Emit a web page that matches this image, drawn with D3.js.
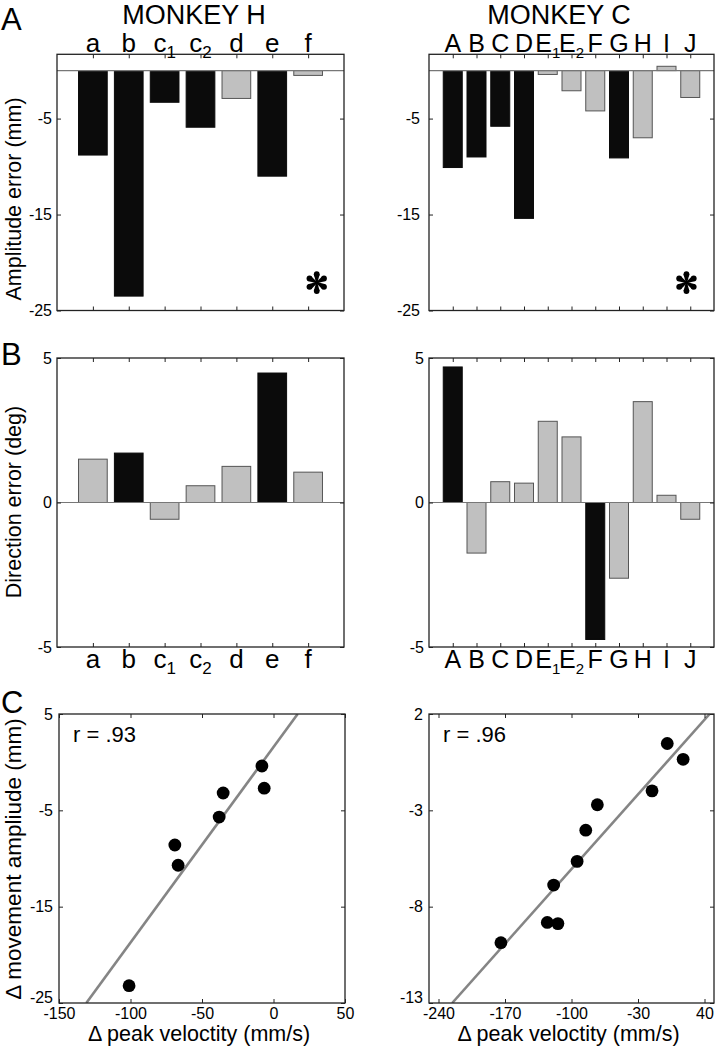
<!DOCTYPE html>
<html><head><meta charset="utf-8">
<script src="https://cdn.jsdelivr.net/npm/d3@7"></script>
<style>
html,body{margin:0;padding:0;background:#fff;}
text{font-family:"Liberation Sans",Arial,Helvetica,sans-serif;fill:#000;}
</style></head>
<body>
<svg id="chart" width="716" height="1050"></svg>
<script>
// ---------- DATA ----------
const catsH = ["a","b","c1","c2","d","e","f"];
const ampH = [-8.8, -23.5, -3.3, -5.9, -2.9, -11.0, -0.5];
const ampHsig = [1,1,1,1,0,1,0];
const dirH = [1.50, 1.71, -0.58, 0.58, 1.25, 4.48, 1.05];
const dirHsig = [0,1,0,0,0,1,0];

const catsC = ["A","B","C","D","E1","E2","F","G","H","I","J"];
const ampC = [-10.1, -9.0, -5.8, -15.4, -0.4, -2.1, -4.2, -9.1, -7.0, 0.45, -2.8];
const ampCsig = [1,1,1,1,0,0,0,1,0,0,0];
const dirC = [4.69, -1.75, 0.72, 0.67, 2.81, 2.27, -4.74, -2.62, 3.49, 0.25, -0.58];
const dirCsig = [1,0,0,0,0,0,1,0,0,0,0];

const velH = [-101, -69, -66.7, -38, -35.2, -8.1, -6.5];
const dAmpH = [-23.2, -8.6, -10.7, -5.7, -3.2, -0.4, -2.7];
const fitH = [[-130.9, -25], [16.9, 5]];
const rH = "r = .93";

const velC = [-174.3, -125.5, -114.3, -118.8, -94.1, -85, -72.8, -15.2, 0.8, 17.5];
const dAmpC = [-9.87, -8.82, -8.88, -6.88, -5.65, -4.03, -2.71, -1.99, 0.47, -0.35];
const fitC = [[-225.6, -13], [45.4, 2]];
const rC = "r = .96";

const ampTicks = [-5, -15, -25];
const dirTicks = [5, 0, -5];
const xTicksH = [-150, -100, -50, 0, 50];
const yTicksH = [5, -5, -15, -25];
const xTicksC = [-240, -170, -100, -30, 40];
const yTicksC = [2, -3, -8, -13];

// ---------- DRAWING ----------
const svg = d3.select("#chart");
const BLACK = "#0b0b0b", GRAY = "#c0c0c0", EDGE = "#555", FRAME = "#222";
const TICKFS = 16;

function catLabel(g, x, y, label, fs, subfs) {
  const m = label.match(/^([A-Za-z]+)(\d*)$/);
  const t = g.append("text").attr("x", x).attr("y", y)
    .attr("text-anchor", "middle").style("font-size", fs + "px");
  t.append("tspan").text(m[1]);
  if (m[2]) {
    t.append("tspan").attr("dy", 6).style("font-size", subfs + "px").text(m[2]);
  }
}

function frameAndTicks(g, x, y, xTicks, yTicks, opts) {
  const [x0, x1] = x.range();
  const [y1, y0] = y.range();
  g.append("rect").attr("x", x0).attr("y", y0).attr("width", x1 - x0).attr("height", y1 - y0)
    .attr("fill", "none").attr("stroke", FRAME).attr("stroke-width", 1.3);
  const tk = 4;
  const axes = [
    [d3.axisLeft(y).tickValues(yTicks).tickSize(-tk).tickPadding(opts.ypad || 6).tickFormat(d => String(d)), x0, 0, "y"],
    [d3.axisRight(y).tickValues(yTicks).tickSize(-tk).tickFormat(""), x1, 0, ""],
    [d3.axisTop(x).tickValues(xTicks).tickSize(-tk).tickFormat(""), 0, y0, ""],
    [d3.axisBottom(x).tickValues(xTicks).tickSize(-tk).tickPadding(opts.xpad || 5)
        .tickFormat(opts.xLabels ? (d => String(d)) : ""), 0, y1, "x"]
  ];
  axes.forEach(([ax, tx, ty, kind]) => {
    const a = g.append("g").attr("transform", `translate(${tx},${ty})`).call(ax.tickSizeOuter(0));
    a.select(".domain").remove();
    a.selectAll("line").attr("stroke", FRAME).attr("stroke-width", 1);
    a.selectAll("text").style("font-size", TICKFS + "px")
      .style("font-family", '"Liberation Sans",Arial,sans-serif').attr("fill", "#000");
    if (kind === "y" && opts.xLabels) {
      const lo = d3.min(yTicks);
      a.selectAll(".tick").filter(d => d === lo).select("text").attr("dy", "-0.05em");
    }
  });
}

function barPanel(cats, vals, sig, xr, yr, ydom, yTicks, labelPos, ypad, fs, subfs) {
  const g = svg.append("g");
  const n = cats.length;
  const x = d3.scaleLinear().domain([0, n + 1]).range(xr);
  const y = d3.scaleLinear().domain(ydom).range([yr[1], yr[0]]);
  const idx = d3.range(n);
  g.selectAll("rect.bar").data(idx).enter().append("rect").attr("class", "bar")
    .attr("x", i => x(i + 1 - 0.4))
    .attr("width", x(0.8) - x(0))
    .attr("y", i => Math.min(y(vals[i]), y(0)))
    .attr("height", i => Math.abs(y(vals[i]) - y(0)))
    .attr("fill", i => sig[i] ? BLACK : GRAY)
    .attr("stroke", i => sig[i] ? BLACK : EDGE)
    .attr("stroke-width", 1);
  g.append("line").attr("x1", xr[0]).attr("x2", xr[1]).attr("y1", y(0)).attr("y2", y(0))
    .attr("stroke", "#777").attr("stroke-width", 1.2);
  frameAndTicks(g, x, y, idx.map(i => i + 1), yTicks, {ypad: ypad});
  idx.forEach(i => {
    const ly = labelPos === "top" ? 52 : 668;
    catLabel(g, x(i + 1), ly, cats[i], fs, subfs);
  });
  return {g, x, y};
}

function scatterPanel(vx, vy, fit, rText, xr, yr, xdom, ydom, xTicks, yTicks) {
  const g = svg.append("g");
  const x = d3.scaleLinear().domain(xdom).range(xr);
  const y = d3.scaleLinear().domain(ydom).range([yr[1], yr[0]]);
  const clipId = "clip" + Math.round(xr[0]);
  svg.append("clipPath").attr("id", clipId).append("rect")
    .attr("x", xr[0]).attr("y", yr[0]).attr("width", xr[1] - xr[0]).attr("height", yr[1] - yr[0]);
  g.append("line").attr("clip-path", `url(#${clipId})`)
    .attr("x1", x(fit[0][0])).attr("y1", y(fit[0][1]))
    .attr("x2", x(fit[1][0])).attr("y2", y(fit[1][1]))
    .attr("stroke", "#858585").attr("stroke-width", 2.6);
  g.selectAll("circle").data(d3.range(vx.length)).enter().append("circle")
    .attr("cx", i => x(vx[i])).attr("cy", i => y(vy[i])).attr("r", 6.4).attr("fill", "#000");
  frameAndTicks(g, x, y, xTicks, yTicks, {xLabels: true, ypad: 6, xpad: 5});
  g.append("text").attr("x", xr[0] + 14).attr("y", yr[0] + 28).style("font-size", "22px").text(rText);
  g.append("text").attr("x", (xr[0] + xr[1]) / 2 - 3).attr("y", 1041)
    .attr("text-anchor", "middle").style("font-size", "21.5px").text("\u0394 peak veloctity (mm/s)");
  return {g, x, y};
}

// Row A
const aH = barPanel(catsH, ampH, ampHsig, [57, 344], [54.3, 310.5], [-25, 1.7], ampTicks, "top", 5, 26, 17);
const aC = barPanel(catsC, ampC, ampCsig, [429, 714], [54.3, 310.5], [-25, 1.7], ampTicks, "top", 9, 25, 15);
// Row B
barPanel(catsH, dirH, dirHsig, [57, 344], [358, 647], [-5, 5], dirTicks, "bottom", 5, 26, 17);
barPanel(catsC, dirC, dirCsig, [429, 714], [358, 647], [-5, 5], dirTicks, "bottom", 5, 25, 15);
// Row C
scatterPanel(velH, dAmpH, fitH, rH, [59, 345], [714, 1003], [-150, 50], [-25, 5], xTicksH, yTicksH);
scatterPanel(velC, dAmpC, fitC, rC, [429, 714], [714, 1003], [-250, 50], [-13, 2], xTicksC, yTicksC);

// six-armed asterisk significance marks (teardrop arms)
function asterisk(g, cx, cy) {
  const L = 8.4, R = 2.9, w0 = 0.7;
  const a = g.append("g").attr("transform", `translate(${cx},${cy})`);
  d3.range(6).forEach(k => {
    const ang = (90 + k * 60) * Math.PI / 180;
    const ux = Math.cos(ang), uy = -Math.sin(ang);
    const px = -uy, py = ux;
    const pts = [[px * w0, py * w0], [ux * L + px * R, uy * L + py * R],
                 [ux * L - px * R, uy * L - py * R], [-px * w0, -py * w0]];
    a.append("path").attr("d", "M" + pts.map(p => p.join(",")).join("L") + "Z").attr("fill", "#000");
    a.append("circle").attr("cx", ux * L).attr("cy", uy * L).attr("r", R).attr("fill", "#000");
  });
  a.append("circle").attr("r", 1.6).attr("fill", "#000");
}
asterisk(aH.g, aH.x(7.24), aH.y(-22.1));
asterisk(aC.g, aC.x(10.84), aC.y(-22.1));

// titles
svg.append("text").attr("x", 194).attr("y", 24).attr("text-anchor", "middle").style("font-size", "27px").text("MONKEY H");
svg.append("text").attr("x", 559).attr("y", 24).attr("text-anchor", "middle").style("font-size", "27px").text("MONKEY C");

// panel letters
[["A", 30], ["B", 365], ["C", 713]].forEach(([t, yy]) => {
  svg.append("text").attr("x", 1).attr("y", yy).style("font-size", "31px").text(t);
});

// y-axis titles
[["Amplitude error (mm)", 199, 21.5], ["Direction error (deg)", 502, 21.5], ["\u0394 movement ampliude (mm)", 859, 22.5]].forEach(([t, cy, fs]) => {
  svg.append("text").attr("transform", `translate(21,${cy}) rotate(-90)`)
    .attr("text-anchor", "middle").style("font-size", fs + "px").text(t);
});
</script>
</body></html>
